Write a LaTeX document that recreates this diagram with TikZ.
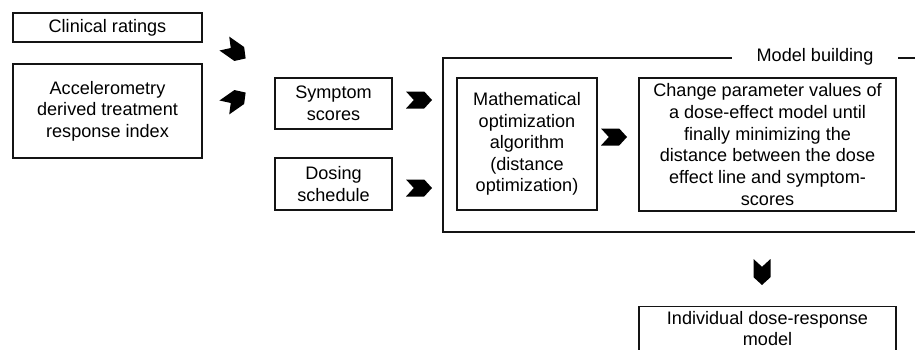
\documentclass[tikz,border=0pt]{standalone}
\usepackage{tikz}
\usepackage{xcolor}
\usepackage{fontspec}
\setmainfont{Liberation Sans}
\usetikzlibrary{shapes.symbols, positioning, calc}
\definecolor{doseInk}{RGB}{20,20,20}

\begin{document}
\begin{tikzpicture}[x=0.02cm, y=-0.02cm,
      box/.style={draw=doseInk, line width=0.7pt, align=center, inner sep=1pt,
      font=\fontsize{10.3}{12.3}\selectfont},
      chevron/.style={signal, signal to=east, signal from=west, signal pointer angle=95,
      fill=black, draw=none, inner sep=0pt, minimum width=0.52cm, minimum height=0.34cm},
      framelabel/.style={fill=white, inner xsep=14pt, inner ysep=1pt, font=\fontsize{10.3}{12.3}\selectfont}
    ]
    \useasboundingbox[fill=white] (0,0) rectangle (915,349);
    \clip (0,0) rectangle (915,349);

    \node[box, minimum width=3.78cm, minimum height=0.58cm] (clin) at (107.5,27.5) {Clinical ratings};
    \node[box, minimum width=3.78cm, minimum height=1.88cm] (accel) at (107.5,111) {Accelerometry\\derived treatment\\response index};
    \node[box, minimum width=2.34cm, minimum height=1.02cm] (sympt) at (333.5,103.5) {Symptom\\scores};
    \node[box, minimum width=2.34cm, minimum height=1.04cm] (dosing) at (333.5,184) {Dosing\\schedule};

    \draw[doseInk, line width=0.7pt] (443,58) rectangle (940,232);
    \node[framelabel] (mbuild) at (815,57) {Model building};

    \node[box, minimum width=2.8cm, minimum height=2.64cm] (optim) at (527,144) {Mathematical\\optimization\\algorithm\\(distance\\optimization)};
    \node[box, minimum width=5.14cm, minimum height=2.66cm] (change) at (767.5,144.5) {Change parameter values of\\a dose-effect model until\\finally minimizing the\\distance between the dose\\effect line and symptom-\\scores};
    \node[box, anchor=north, minimum width=5.14cm, minimum height=1.3cm, inner ysep=2pt] (indiv) at (767.5,306) {Individual dose-response\\model\\\phantom{x}};

    \node[chevron, rotate=-35] (chevA) at (235,51) {};
    \node[chevron, rotate=35] (chevB) at (235,100) {};
    \node[chevron] (chevC) at (419,100) {};
    \node[chevron] (chevD) at (419,188) {};
    \node[chevron] (chevE) at (614,137) {};
    \node[chevron, rotate=-90] (chevF) at (762,272) {};
  \end{tikzpicture}
\end{document}
